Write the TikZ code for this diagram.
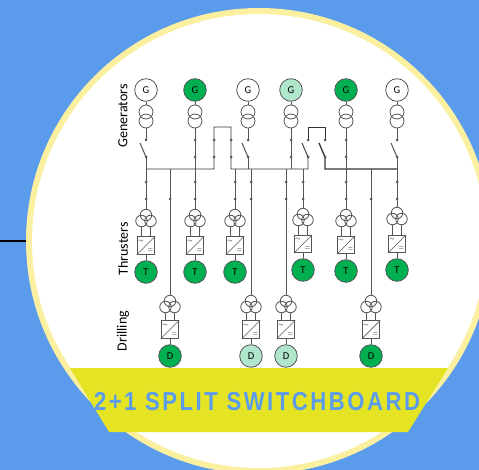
\documentclass[tikz,border=0pt]{standalone}
\usepackage{fontspec}
\setmainfont{Carlito}
\newfontfamily\bannerfont[FakeStretch=0.85,LetterSpace=9.7]{Liberation Sans}
\usepackage{tikz}
\definecolor{skyblue}{RGB}{91,155,235}
\definecolor{paleyellow}{RGB}{251,240,160}
\definecolor{bannercol}{RGB}{228,228,36}
\definecolor{fullgreen}{RGB}{0,176,80}
\definecolor{palegreen}{RGB}{176,230,203}
\definecolor{wirecol}{RGB}{85,85,85}
% generator column: machine, transformer, two dots
\newcommand{\gencol}[3]{
\node[machine,fill=#3](#1) at (#2,90){G};
\node[coil](#1a) at (#2,112){};
\node[coil](#1b) at (#2,121){};
\node[vertex](#1u) at (#2,140){};
\node[vertex](#1l) at (#2,157){};
\draw [wire] (#1) -- (#1a);
\draw [wire] (#1b) -- (#1u);
}
% drive: three coils, converter, motor
\newcommand{\drive}[7]{
\node[smallcoil](#1) at (#2,#3){};
\node[smallcoil,xshift=-4.5pt](#1a) at (#2,#3+6){};
\node[smallcoil,xshift=4.5pt](#1b) at (#2,#3+6){};
\node[conv](#1c) at (#2,#4){};
\node[sign,xshift=-5pt,yshift=4.5pt](#1p) at (#1c){$\sim$};
\node[sign,xshift=4.5pt,yshift=-4.5pt](#1q) at (#1c){$=$};
\node[machine,fill=#7](#1m) at (#2,#5){#6};
\draw [wire,line width=0.7pt] (#1c.south west) -- (#1c.north east);
\draw [wire] (#1a.south) -- (#1a.south |- #1c.north);
\draw [wire] (#1b.south) -- (#1b.south |- #1c.north);
\draw [wire] (#1c) -- (#1m);
}
% feeder from the bus with two dots
\newcommand{\feed}[2]{
\coordinate (#1k) at (#2,169);
\node[vertex](#1d) at (#2,182){};
\node[vertex](#1e) at (#2,199){};
\draw [wire] (#1k) -- (#1d) -- (#1e) -- (#1);
}
\begin{document}
\begin{tikzpicture}[x=1pt,y=-1pt]
\tikzstyle{vertex} =[circle, fill = wirecol,inner sep=0pt,outer sep=-0.6pt,minimum size=3pt]
\tikzstyle{machine} =[circle, draw = wirecol,line width=0.8pt,inner sep=0pt,minimum size=22.6pt,font=\fontsize{10.5}{10.5}\selectfont]
\tikzstyle{coil} =[circle, draw = wirecol,line width=0.8pt,inner sep=0pt,minimum size=14pt]
\tikzstyle{smallcoil} =[circle, draw = wirecol,line width=0.8pt,inner sep=0pt,minimum size=11.5pt]
\tikzstyle{conv} =[rectangle, draw = wirecol,line width=0.8pt,inner sep=0pt,minimum size=17.5pt]
\tikzstyle{sign} =[inner sep=0pt,font=\fontsize{6}{6}\selectfont]
\tikzstyle{wire} =[draw=wirecol,line width=1pt]
\tikzstyle{busbar} =[draw=black!80,line width=0.9pt]
\tikzstyle{rowlabel} =[rotate=90,font=\fontsize{14}{14}\selectfont]

\useasboundingbox (0,0) rectangle (479,470);
\fill[skyblue] (0,0) rectangle (479,470);
\draw [line width=2.5pt] (0,241) -- (28,241);
\fill[paleyellow] (259,241) circle [radius=233pt];
\fill[white] (259,241) circle [radius=227pt];

\node[rowlabel](lgen) at (123,116){Generators};
\node[rowlabel](lthr) at (123,249){Thrusters};
\node[rowlabel](ldri) at (123,331){Drilling};

\gencol{g1}{146}{white}
\gencol{g2}{195}{fullgreen}
\gencol{g3}{248}{white}
\gencol{g4}{291}{palegreen}
\gencol{g5}{346}{fullgreen}
\gencol{g6}{397}{white}

% open breakers
\coordinate (s1) at (140,143);
\coordinate (s3) at (242,143);
\coordinate (s6) at (391,143);
\draw [wire] (g1l) -- (s1);
\draw [wire] (g3l) -- (s3);
\draw [wire] (g6l) -- (s6);
\draw [wire] (g2u) -- (g2l);
\draw [wire] (g4u) -- (g4l);
\draw [wire] (g5u) -- (g5l);

% bus ties
\node[vertex](tl1) at (214,157){};
\node[vertex](tu1) at (214,140){};
\node[vertex](tu2) at (231,140){};
\node[vertex](tl2) at (231,157){};
\node[vertex](tl3) at (308,157){};
\node[vertex](tu3) at (308,140){};
\node[vertex](tu4) at (325,140){};
\node[vertex](tl4) at (325,157){};
\coordinate (s7) at (302,143);
\coordinate (s8) at (319,143);
\coordinate (a1) at (146,169);
\coordinate (a2) at (214,169);
\coordinate (a3) at (214,127);
\coordinate (a4) at (231,127);
\coordinate (a5) at (231,169);
\coordinate (a6) at (308,169);
\coordinate (a7) at (308,127);
\coordinate (a8) at (325,127);
\coordinate (a9) at (325,169);
\coordinate (a10) at (397,169);
\draw [busbar] (a1) -- (a2) -- (tl1) -- (tu1) -- (a3) -- (a4) -- (tu2) -- (tl2) -- (a5) -- (a6) -- (tl3) -- (s7);
\draw [busbar] (tu3) -- (a7) -- (a8) -- (tu4);
\draw [busbar,line width=1.3pt] (s8) -- (tl4) -- (a9) -- (a10);

\coordinate (k1) at (146,169);
\coordinate (k2) at (195,169);
\coordinate (k3) at (248,169);
\coordinate (k4) at (291,169);
\coordinate (k5) at (346,169);
\coordinate (k6) at (397,169);
\draw [wire] (g1l) -- (k1);
\draw [wire] (g2l) -- (k2);
\draw [wire] (g3l) -- (k3);
\draw [wire] (g4l) -- (k4);
\draw [wire] (g5l) -- (k5);
\draw [wire] (g6l) -- (k6);

% thrusters
\drive{t1}{146}{215}{245.5}{272}{T}{fullgreen}
\drive{t2}{195}{215}{245.5}{272}{T}{fullgreen}
\drive{t3}{235}{215}{245.5}{272}{T}{fullgreen}
\drive{t4}{303}{214}{244}{270}{T}{fullgreen}
\drive{t5}{346}{215}{245}{271}{T}{fullgreen}
\drive{t6}{397}{213}{244}{270}{T}{fullgreen}
\feed{t1}{146}
\feed{t2}{195}
\feed{t3}{235}
\feed{t4}{303}
\feed{t5}{346}
\feed{t6}{397}

% drilling
\drive{d1}{170}{301}{329.5}{356}{D}{fullgreen}
\drive{d2}{251}{301}{329.5}{356}{D}{palegreen}
\drive{d3}{286}{301}{329.5}{356}{D}{palegreen}
\drive{d4}{371}{301}{329.5}{356}{D}{fullgreen}
\feed{d2}{251}
\feed{d3}{286}
\coordinate (d1k) at (170,169);
\coordinate (d4k) at (371,169);
\node[vertex](d1e) at (170,199){};
\node[vertex](d4e) at (371,199){};
\draw [wire] (d1k) -- (d1e) -- (d1);
\draw [wire] (d4k) -- (d4e) -- (d4);

% banner
\fill[bannercol] (70,368) -- (448,368) -- (408,432) -- (109,432) -- cycle;
\node[text=skyblue,font=\bannerfont\bfseries\fontsize{26}{26}\selectfont,inner sep=0pt](title) at (257,402){2+1 SPLIT SWITCHBOARD};
\end{tikzpicture}
\end{document}
